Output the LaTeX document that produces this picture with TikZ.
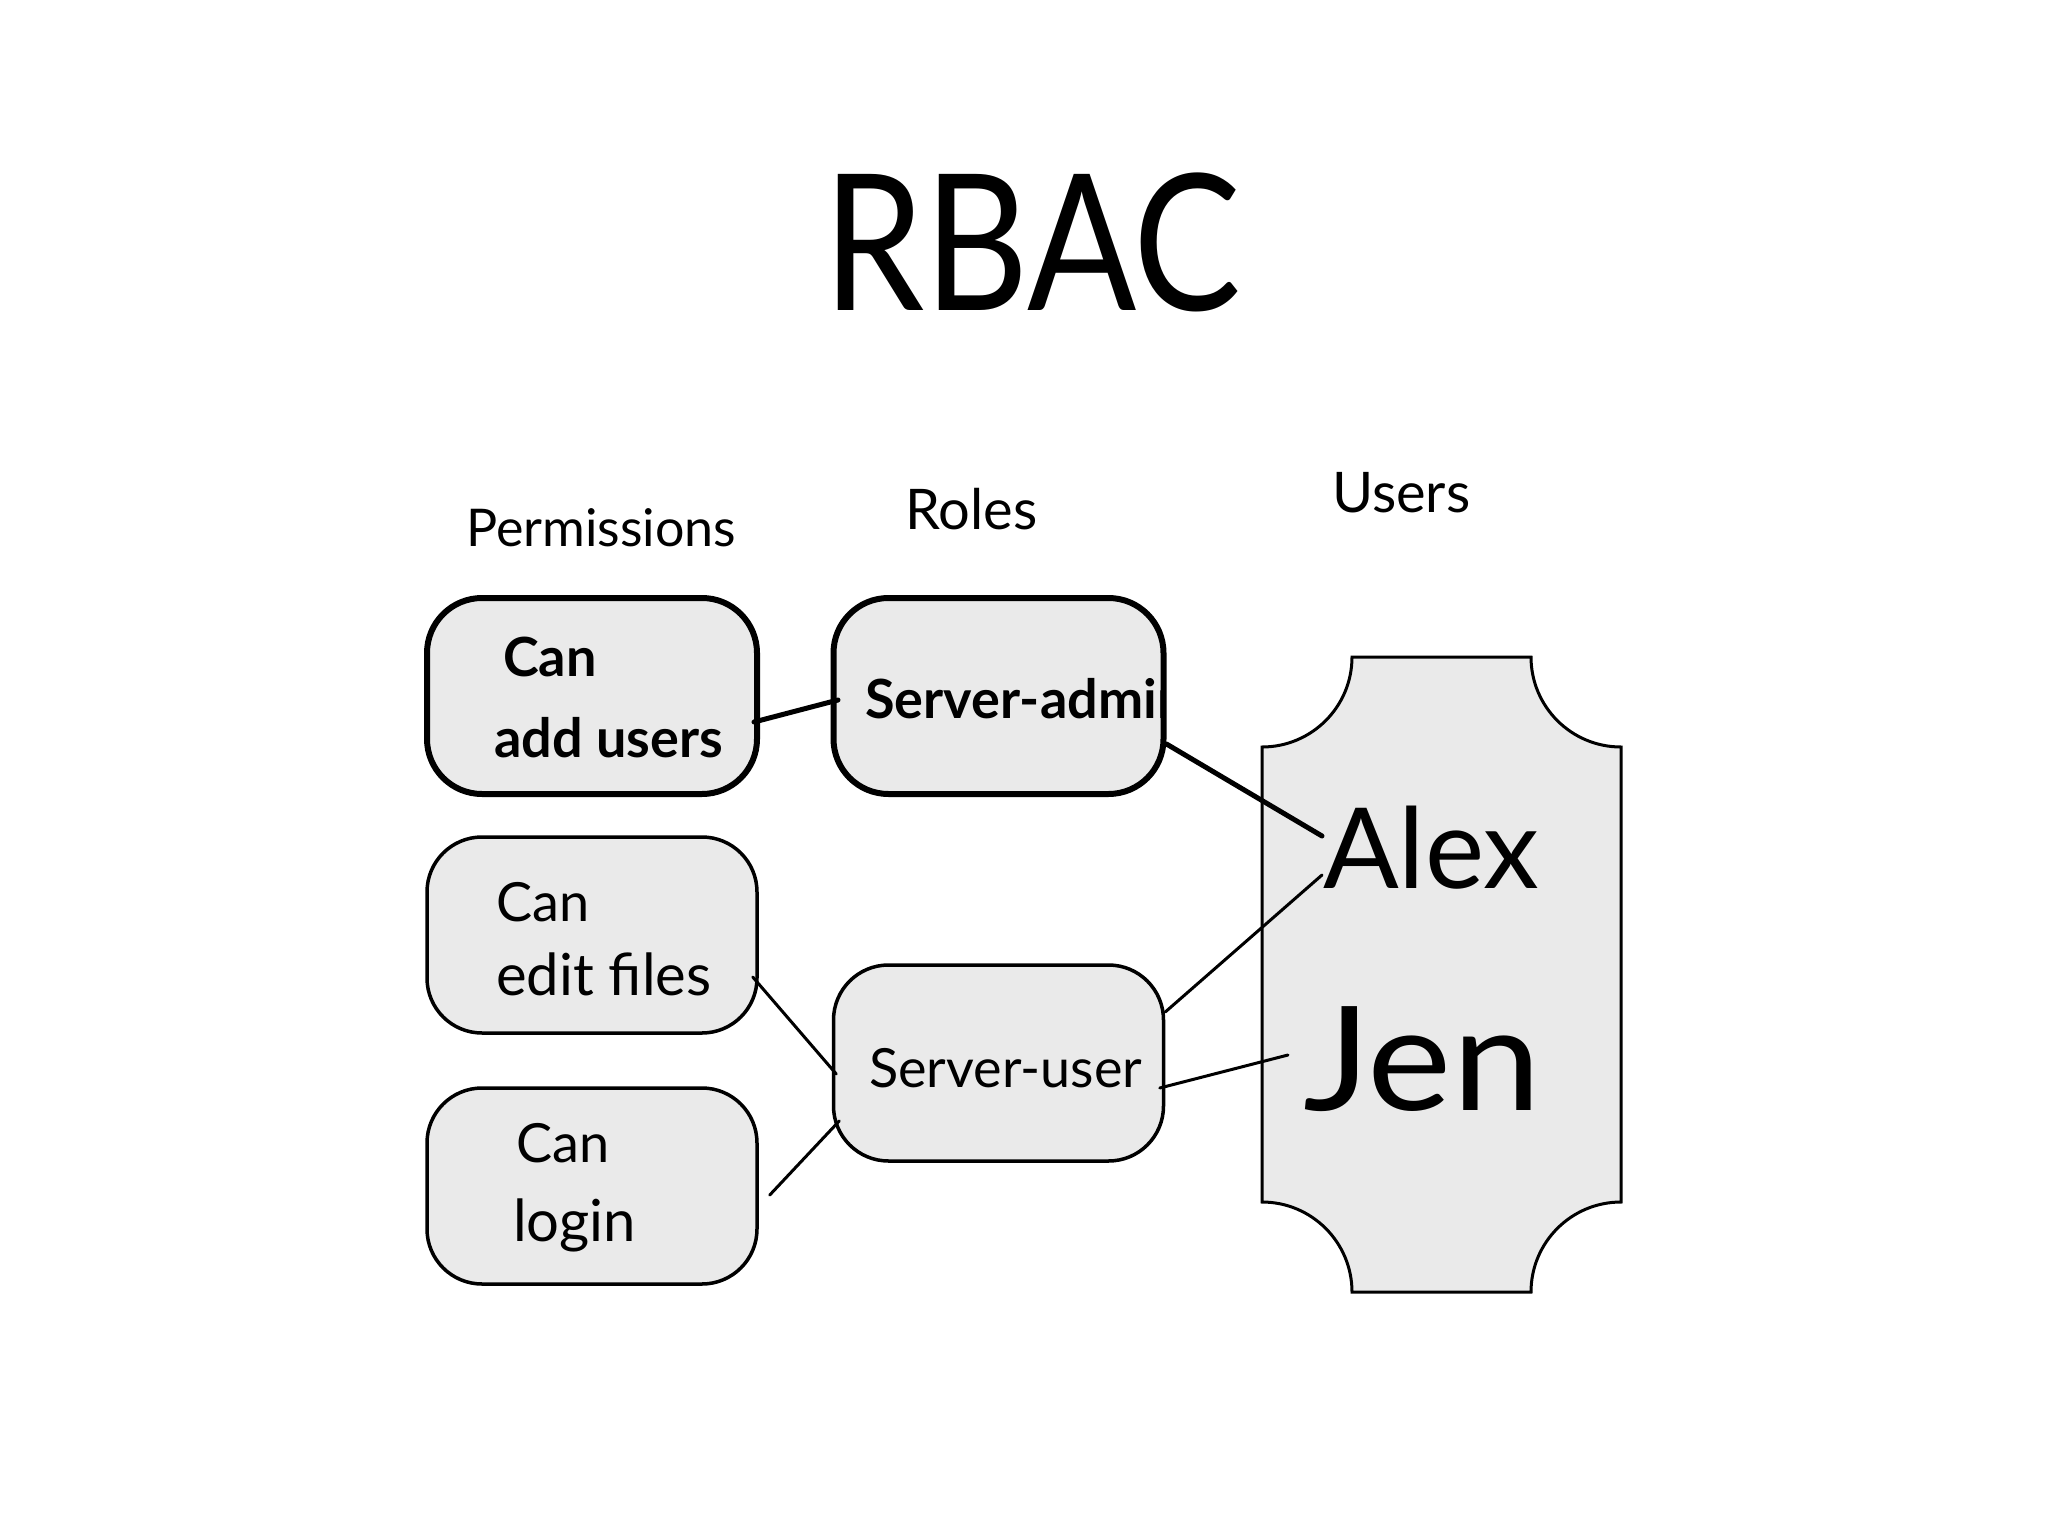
\documentclass[tikz,border=0pt]{standalone}
\usepackage{fontspec}
\setmainfont{Lato}
\usetikzlibrary{calc}
\definecolor{boxgray}{HTML}{EAEAEA}
\tikzset{
  box/.style={draw=black, fill=boxgray, rounded corners=55pt, minimum width=330pt, minimum height=196pt, line width=3.5pt, inner sep=0pt},
  boldbox/.style={box, line width=6pt},
  txt/.style={inner sep=0pt, anchor=base west, font=\fontsize{54}{60}\selectfont},
  boldtxt/.style={txt, font=\fontsize{54}{60}\selectfont\bfseries},
  head/.style={inner sep=0pt, anchor=base west, font=\fontsize{56}{64}\selectfont},
  usrname/.style={inner sep=0pt, anchor=base west, font=\fontsize{112}{120}\selectfont},
  thinline/.style={line width=3pt, line cap=round},
  thickline/.style={line width=5pt, line cap=round},
}
\begin{document}
\begin{tikzpicture}[x=1pt, y=-1pt]
\useasboundingbox (0,0) rectangle (2048,1536);
\fill[white] (0,0) rectangle (2048,1536);

% title and column heads
\node[inner sep=0pt, anchor=base west, font=\fontsize{190}{200}\selectfont, xscale=0.85] (title) at (823,310) {RBAC};
\node[head, font=\fontsize{52}{60}\selectfont] (hperm) at (466,546) {Permissions};
\node[head] (hroles) at (905,529) {Roles};
\node[head] (husers) at (1332,512) {Users};

% permission boxes
\node[boldbox] (p1) at (592,696) {};
\node[box] (p2) at (592,935) {};
\node[box] (p3) at (592,1186) {};
\node[boldtxt] (p1a) at (503,676) {Can};
\node[boldtxt] (p1b) at (494,757) {add users};
\node[txt] (p2a) at (496,921) {Can};
\node[txt, font=\fontsize{58}{64}\selectfont] (p2b) at (496,995) {edit files};
\node[txt] (p3a) at (516,1162) {Can};
\node[txt, font=\fontsize{58}{64}\selectfont] (p3b) at (513,1241) {login};

% role boxes
\node[boldbox] (r1) at (998.5,696) {};
\node[box] (r2) at (998.5,1063) {};
\begin{scope}
  \clip (835,600) rectangle (1161,792);
  \node[boldtxt] (r1t) at (865,718) {Server-admin};
\end{scope}
\node[txt] (r2t) at (869,1087) {Server-user};

% users shape
\draw[line width=3pt, fill=boxgray] (1262,747) arc[start angle=90, end angle=0, radius=90]
  -- (1531,657) arc[start angle=180, end angle=90, radius=90]
  -- (1621,1202) arc[start angle=270, end angle=180, radius=90]
  -- (1352,1292) arc[start angle=0, end angle=-90, radius=90] -- cycle;
\node[usrname] (alex) at (1323,888) {Alex};
\node[usrname, font=\fontsize{145}{150}\selectfont, xscale=1.1] (jen) at (1303,1110) {Jen};

% connectors
\draw[thickline] ($(p1.east)+(-6,26)$) -- ($(r1.west)+(7.5,4)$);
\draw[thickline] ($(r1.east)+(0,48)$) -- ($(alex.base west)+(-1,-52)$);
\draw[thinline] ($(r2.east)+(0,-51)$) -- ($(alex.base west)+(-1,-13)$);
\draw[thinline] ($(r2.east)+(-5.5,25)$) -- ($(jen.base west)+(-15,-55)$);
\draw[thinline] ($(p2.east)+(-6,42)$) -- ($(r2.west)+(4.5,11)$);
\draw[thinline] ($(p3.east)+(11,9)$) -- ($(r2.west)+(7.5,58)$);
\end{tikzpicture}
\end{document}
